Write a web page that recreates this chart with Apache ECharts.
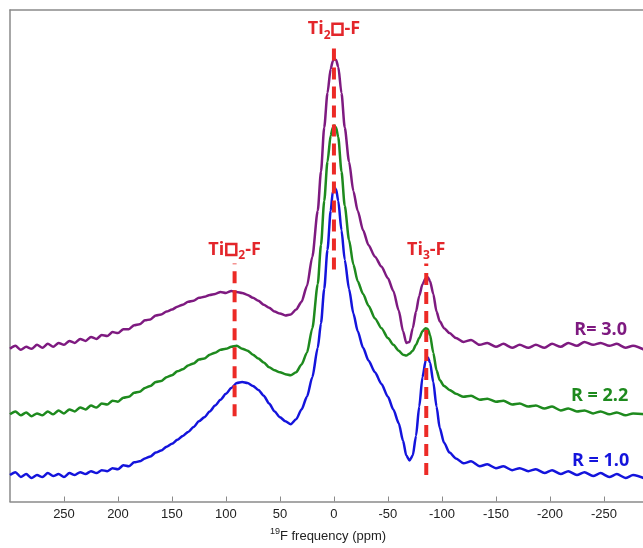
<!DOCTYPE html>
<html>
<head>
<meta charset="utf-8">
<script src="https://cdn.jsdelivr.net/npm/echarts@6/dist/echarts.min.js"></script>
<style>
  html, body { margin: 0; padding: 0; background: #fff; overflow: hidden; }
  #chart { width: 660px; height: 548px; }
</style>
</head>
<body>
<div id="chart"></div>
<script>
// chemical shift (ppm) of each sample point
const ppm = [300, 295, 290, 285, 280, 275, 270, 265, 260, 255, 250, 245, 240, 235, 230, 225, 220, 215, 210, 205,
  200, 195, 190, 185, 180, 175, 170, 165, 160, 155, 150, 145, 140, 135, 130, 125, 120, 115, 110, 105,
  100, 95, 90, 85, 80, 75, 70, 65, 60, 55, 50, 45, 40, 35, 30, 25, 20, 15, 12, 9,
  6, 3, 1, 0, -2, -4, -7, -10, -14, -18, -22, -27, -32, -38, -44, -50, -55, -60, -64, -67,
  -70, -73, -76, -79, -82, -85, -87, -89, -92, -95, -98, -102, -107, -113, -120, -127, -135, -142, -150, -157,
  -165, -172, -180, -187, -195, -202, -210, -217, -225, -232, -240, -247, -255, -262, -270, -277, -289];

// stacked intensities (arbitrary units, offsets included)
const r10 = [27, 30, 25, 28, 24, 27, 25, 29, 26, 28, 25, 29, 27, 30, 28, 31, 29, 32, 31, 34,
  33, 37, 36, 40, 41, 44, 46, 50, 52, 56, 59, 63, 67, 71, 76, 82, 86, 92, 98, 104,
  110, 116, 121, 122, 121, 118, 114, 108, 100, 92, 86, 82, 79, 84, 94, 107, 127, 157, 182, 217,
  257, 297, 317, 321, 319, 307, 277, 247, 217, 192, 174, 157, 144, 132, 120, 107, 94, 80, 62, 47,
  42, 47, 67, 97, 127, 144, 147, 142, 122, 97, 75, 60, 50, 44, 39, 41, 36, 38, 34, 36,
  32, 34, 31, 33, 29, 32, 28, 31, 27, 30, 26, 29, 25, 28, 24, 27, 23];

const r22 = [89, 92, 88, 91, 87, 90, 88, 92, 89, 93, 90, 94, 92, 96, 94, 98, 96, 100, 99, 103,
  102, 106, 107, 111, 112, 116, 118, 122, 123, 127, 129, 133, 135, 139, 141, 145, 146, 150, 152, 155,
  156, 158, 159, 156, 154, 150, 146, 142, 137, 134, 132, 130, 129, 132, 140, 152, 177, 222, 262, 307,
  347, 374, 382, 384, 382, 372, 337, 302, 267, 242, 225, 212, 200, 187, 177, 167, 160, 154, 150, 149,
  151, 154, 160, 167, 174, 177, 176, 170, 152, 134, 124, 118, 114, 110, 107, 108, 104, 105, 102, 103,
  99, 100, 97, 98, 95, 97, 93, 95, 92, 93, 90, 92, 89, 91, 88, 90, 89];

const r30 = [156, 159, 155, 158, 156, 160, 157, 161, 158, 162, 160, 164, 162, 166, 164, 168, 166, 170, 169, 173,
  172, 176, 176, 180, 181, 185, 186, 190, 191, 194, 196, 199, 201, 204, 205, 208, 209, 211, 212, 214,
  213, 215, 214, 213, 211, 208, 205, 201, 198, 194, 192, 190, 191, 196, 204, 220, 250, 297, 337, 382,
  417, 442, 450, 452, 451, 444, 417, 382, 347, 317, 297, 277, 262, 250, 240, 228, 215, 195, 174, 162,
  163, 177, 194, 210, 222, 228, 229, 225, 212, 194, 184, 177, 172, 167, 163, 165, 160, 162, 158, 161,
  157, 160, 157, 160, 157, 161, 158, 162, 159, 163, 160, 162, 159, 161, 157, 159, 154];

// peak assignment markers
const markers = [
  { pos: 92, from: 87, to: 243, label: '{n|Ti}{g|}{b|}{g|}{s|2}{n|-F}' },
  { pos: 0, from: 237, to: 468, label: '{n|Ti}{s|2}{g|}{b|}{g|}{n|-F}' },
  { pos: -85.5, from: 27, to: 243, label: '{n|Ti}{s|3}{n|-F}' }
];

// sample labels and where they sit
const sampleNames = ['R = 1.0', 'R = 2.2', 'R= 3.0'];
const sampleLabelPos = [[-247, 42], [-246, 108], [-247, 175]];
const colors = ['#1414dc', '#1e8a1e', '#7e1a80'];
const red = '#e3262b';
const labelFont = '"Open Sans", "Noto Sans", sans-serif';

const chart = echarts.init(document.getElementById('chart'));

const traces = [r10, r22, r30].map((vals, i) => ({
  name: sampleNames[i],
  type: 'line',
  data: ppm.map((p, k) => [p, vals[k]]),
  showSymbol: false,
  smooth: 0.25,
  smoothMonotone: 'x',
  lineStyle: { color: colors[i], width: 2.5 },
  z: 3,
  markPoint: {
    symbol: 'circle',
    symbolSize: 0,
    data: [{ coord: sampleLabelPos[i] }],
    label: {
      show: true,
      position: 'inside',
      formatter: sampleNames[i],
      color: colors[i],
      fontFamily: labelFont,
      fontWeight: 'bold',
      fontSize: 18
    }
  }
}));

const subRich = {
  n: { fontFamily: labelFont, fontWeight: 'bold', fontSize: 18, color: red, lineHeight: 24, verticalAlign: 'middle' },
  s: { fontFamily: labelFont, fontWeight: 'bold', fontSize: 12, color: red, lineHeight: 12, verticalAlign: 'bottom' },
  g: { width: 2 },
  b: { width: 10, height: 11, borderColor: red, borderWidth: 2.5, verticalAlign: 'middle', lineHeight: 15 }
};

const dashes = markers.map(m => ({
  type: 'line',
  data: [[m.pos, m.from], [m.pos, m.to]],
  showSymbol: true,
  symbolSize: 0,
  lineStyle: { color: '#ec2a26', width: 4, type: [12, 7] },
  z: 4,
  label: {
    show: true,
    position: 'top',
    distance: 2,
    formatter: p => (p.dataIndex === 1 ? m.label : ''),
    rich: subRich
  }
}));

const ticks = [250, 200, 150, 100, 50, 0, -50, -100, -150, -200, -250];
const frameLine = { color: '#8a8a8a', width: 1.5 };

const option = {
  animation: false,
  grid: { left: 10, right: 14, top: 10, bottom: 36 },
  xAxis: [
    {
      type: 'value',
      inverse: true,
      min: -289,
      max: 300,
      axisLine: { onZero: false, lineStyle: frameLine },
      axisTick: { inside: true, length: 5, lineStyle: { color: '#8a8a8a' }, customValues: ticks },
      axisLabel: {
        color: '#222',
        fontFamily: '"Liberation Sans", Arial, sans-serif',
        fontSize: 13,
        margin: 6,
        customValues: ticks
      },
      splitLine: { show: false },
      name: '{sup|19}{t|F frequency (ppm)}',
      nameLocation: 'middle',
      nameGap: 26,
      nameTextStyle: {
        rich: {
          sup: { fontFamily: '"Liberation Sans", Arial, sans-serif', fontSize: 9, color: '#222', verticalAlign: 'top', lineHeight: 14 },
          t: { fontFamily: '"Liberation Sans", Arial, sans-serif', fontSize: 13, color: '#222', verticalAlign: 'middle', lineHeight: 18 }
        }
      }
    },
    {
      type: 'value',
      position: 'top',
      inverse: true,
      min: -289,
      max: 300,
      axisLine: { show: true, onZero: false, lineStyle: frameLine },
      axisTick: { show: false },
      axisLabel: { show: false },
      splitLine: { show: false }
    }
  ],
  yAxis: {
    type: 'value',
    min: 0,
    max: 502,
    axisLine: { show: true, onZero: false, lineStyle: frameLine },
    axisTick: { show: false },
    axisLabel: { show: false },
    splitLine: { show: false }
  },
  series: [...traces, ...dashes]
};

chart.setOption(option);
window.addEventListener('resize', () => chart.resize());
</script>
</body>
</html>
